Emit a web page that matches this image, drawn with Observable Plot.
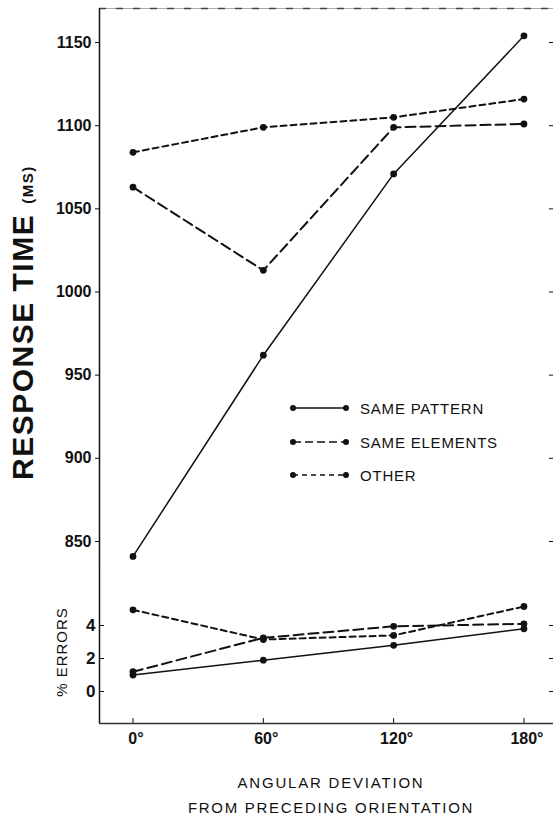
<!DOCTYPE html>
<html><head><meta charset="utf-8">
<script src="https://cdn.jsdelivr.net/npm/d3@7"></script>
<script src="https://cdn.jsdelivr.net/npm/@observablehq/plot@0.6"></script>
<style>
body{margin:0;background:#fff;}
#chart svg{display:block;}
</style></head><body><div id="chart"></div>
<script>
// ---- data ----
const angles = [0, 60, 120, 180];
const angleTicks = [0, 60, 120, 180];
const series = ["SAME PATTERN", "SAME ELEMENTS", "OTHER"];
const rtSamePattern = [841, 962, 1071, 1154];
const rtSameElements = [1063, 1013, 1099, 1101];
const rtOther = [1084, 1099, 1105, 1116];
const errSamePattern = [1.0, 1.9, 2.8, 3.8];
const errSameElements = [1.2, 3.25, 3.95, 4.1];
const errOther = [4.95, 3.15, 3.4, 5.15];
const rtTicks = [850, 900, 950, 1000, 1050, 1100, 1150];
const errTicks = [0, 2, 4];

// ---- styles ----
const ink = "#111";
const dash = {"SAME PATTERN": null, "SAME ELEMENTS": "10,5", "OTHER": "6,4"};
const sw = {"SAME PATTERN": 1.5, "SAME ELEMENTS": 2, "OTHER": 2};
const FONT = "'Liberation Sans', Arial, Helvetica, sans-serif";

function toLong(arrs) {
  return series.flatMap((s, i) => arrs[i].map((v, j) => ({series: s, angle: angles[j], value: v})));
}
const rt = toLong([rtSamePattern, rtSameElements, rtOther]);
const err = toLong([errSamePattern, errSameElements, errOther]);

const W = 553, ML = 99, MR = 0;
const frameW = W - ML - MR;
const xDomain = [-15.42, 193.6];

function seriesMarks(data) {
  return series.flatMap(s => [
    Plot.line(data.filter(d => d.series === s), {x: "angle", y: "value", stroke: ink, strokeWidth: sw[s], strokeDasharray: dash[s]}),
    Plot.dot(data.filter(d => d.series === s), {x: "angle", y: "value", r: 3.4, fill: ink, stroke: null})
  ]);
}

// ---- upper panel: response time ----
const upperH = 570, upperMT = 8;
const upperDomain = [832.56, 1170.44];
const upper = Plot.plot({
  width: W, height: upperH, marginTop: upperMT, marginBottom: 0, marginLeft: ML, marginRight: MR,
  style: `font-family:${FONT};font-size:16px;font-weight:bold;color:${ink};background:#fff;overflow:visible;`,
  x: {domain: xDomain, axis: null},
  y: {domain: upperDomain, axis: null},
  marks: [
    Plot.ruleY([upperDomain[1]], {stroke: "#aaa", strokeWidth: 1}),
    Plot.ruleY([upperDomain[1]], {stroke: "#444", strokeWidth: 1.3, strokeDasharray: "7,10"}),
    Plot.ruleX([xDomain[0]], {stroke: ink, strokeWidth: 1.5}),
    Plot.axisY(rtTicks, {anchor: "left", tickSize: 4, tickPadding: 4, label: null, stroke: ink, fontSize: 16, tickFormat: d => String(d)}),
    Plot.tickY(rtTicks, {y: d => d, insetLeft: frameW - 4, stroke: ink}),
    ...seriesMarks(rt)
  ]
});

// ---- lower panel: % errors ----
const lowerH = 252, lowerFrameH = 153;
const lowerDomain = [-1.939, 7.333];
const lower = Plot.plot({
  width: W, height: lowerH, marginTop: 0, marginBottom: lowerH - lowerFrameH, marginLeft: ML, marginRight: MR,
  style: `font-family:${FONT};font-size:16px;font-weight:bold;color:${ink};background:#fff;overflow:visible;`,
  x: {domain: xDomain, axis: null},
  y: {domain: lowerDomain, axis: null},
  marks: [
    Plot.ruleX([xDomain[0]], {stroke: ink, strokeWidth: 1.5}),
    Plot.ruleY([lowerDomain[0]], {stroke: "#333", strokeWidth: 1.3}),
    Plot.axisY(errTicks, {anchor: "left", tickSize: 0, tickPadding: 4, label: null, fontSize: 17, tickFormat: d => String(d)}),
    Plot.tickY(errTicks, {y: d => d, insetRight: frameW - 5, stroke: ink}),
    Plot.tickY(errTicks, {y: d => d, insetLeft: frameW - 4, stroke: ink}),
    Plot.axisX(angleTicks, {anchor: "bottom", tickSize: 0, tickPadding: 9, label: null, fontSize: 16, tickFormat: d => d + "°", dx: 3}),
    Plot.tickX(angleTicks, {x: d => d, insetTop: lowerFrameH - 5, stroke: ink}),
    ...seriesMarks(err)
  ]
});

const chart = document.getElementById("chart");
chart.append(upper, lower);

// ---- text labels ----
const su = d3.select(upper);
const t = su.append("text")
  .attr("transform", "translate(33,480) rotate(-90)")
  .attr("font-size", 30).attr("font-weight", "bold").attr("letter-spacing", 1.5)
  .attr("fill", ink).attr("text-anchor", "start");
t.append("tspan").text("RESPONSE TIME");
t.append("tspan").attr("font-size", 15).attr("dx", 10).text("(MS)");

// legend
const legRows = [408, 442, 475];
series.forEach((s, i) => {
  const g = su.append("g");
  g.append("line").attr("x1", 293).attr("x2", 346).attr("y1", legRows[i]).attr("y2", legRows[i])
    .attr("stroke", ink).attr("stroke-width", s === "SAME PATTERN" ? 1.5 : 1.6)
    .attr("stroke-dasharray", s === "SAME PATTERN" ? null : (s === "SAME ELEMENTS" ? "8,4" : "5,4"));
  [293, 346].forEach(cx => g.append("circle").attr("cx", cx).attr("cy", legRows[i]).attr("r", 3).attr("fill", ink));
  g.append("text").attr("x", 360).attr("y", legRows[i] + 5.5)
    .attr("font-size", 15).attr("font-weight", "normal").attr("letter-spacing", 0.8)
    .attr("text-anchor", "start").attr("fill", ink).text(s);
});

const sl = d3.select(lower);
sl.append("text")
  .attr("transform", "translate(67,82) rotate(-90)")
  .attr("font-size", 15).attr("font-weight", "normal").attr("letter-spacing", 1)
  .attr("text-anchor", "middle").attr("fill", ink).text("% ERRORS");
sl.append("text").attr("x", 331).attr("y", 218)
  .attr("font-size", 15).attr("font-weight", "normal").attr("letter-spacing", 1.8)
  .attr("text-anchor", "middle").attr("fill", ink).text("ANGULAR DEVIATION");
sl.append("text").attr("x", 331).attr("y", 243)
  .attr("font-size", 15).attr("font-weight", "normal").attr("letter-spacing", 1.7)
  .attr("text-anchor", "middle").attr("fill", ink).text("FROM PRECEDING ORIENTATION");
</script>
</body></html>
